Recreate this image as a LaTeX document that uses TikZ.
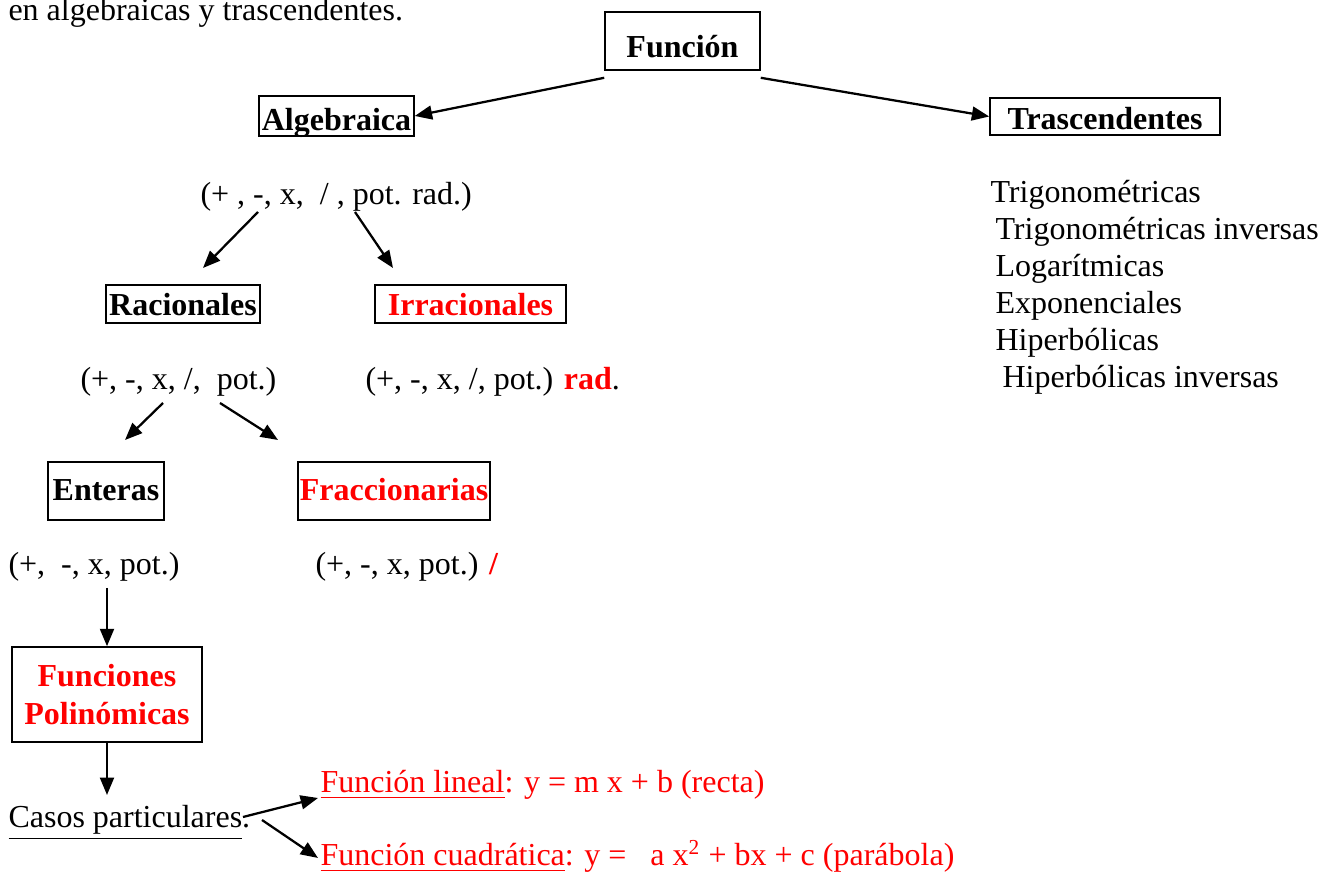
\documentclass[tikz,border=0pt]{standalone}
\usepackage{fontspec}
\setmainfont{Liberation Serif}
\usetikzlibrary{arrows.meta}
\begin{document}
\fontsize{12}{14}\selectfont
\begin{tikzpicture}[x=0.375pt,y=-0.375pt,
  box/.style={draw,line width=0.6pt,font=\bfseries,inner sep=0pt},
  txt/.style={anchor=base west,inner sep=0pt},
  arr/.style={line width=0.85pt,-{Triangle[length=6.5pt,width=5.2pt]}}]
\useasboundingbox (0,0) rectangle (1327,876);
\node[txt] (intro) at (8,21) {en algebraicas y trascendentes.};
\node[box,minimum width=58.1pt,text height=17.25pt,text depth=4.5pt] (fun) at (682.5,41) {Función};
\node[box,minimum width=58.1pt,text height=13.1pt,text depth=1.9pt] (alg) at (336.5,116) {Algebraica};
\node[box,minimum width=86.25pt,text height=12pt,text depth=1.9pt] (tra) at (1105,116.5) {Trascendentes};
\draw[arr] (fun.south west) ++(0,7) -- (alg.east);
\draw[arr] (fun.south east) ++(0,7) -- (tra.west);
\node[txt] (algops) at (200,205) {(+ , -, x,~~/ , pot. rad.)};
\coordinate (a1) at (258,212);
\coordinate (a2) at (203,268);
\coordinate (a3) at (355,212);
\coordinate (a4) at (393,268);
\draw[arr] (a1) -- (a2);
\draw[arr] (a3) -- (a4);
\node[box,minimum width=57.75pt,text height=11.6pt,text depth=2.6pt] (rac) at (183,304) {Racionales};
\node[box,minimum width=71.6pt,text height=11.6pt,text depth=2.6pt,text=red] (irr) at (470.5,304) {Irracionales};
\node[txt] (racops) at (80,390) {(+, -, x, /,~~pot.)};
\node[txt] (irrops) at (365,390) {(+, -, x, /, pot.) \textcolor{red}{\bfseries rad}.};
\coordinate (r1) at (163,403);
\coordinate (r2) at (125,440);
\coordinate (r3) at (220,403);
\coordinate (r4) at (278,440);
\draw[arr] (r1) -- (r2);
\draw[arr] (r3) -- (r4);
\node[box,minimum width=43.5pt,text height=14.6pt,text depth=7.1pt] (ent) at (106,491) {Enteras};
\node[box,minimum width=72pt,text height=14.6pt,text depth=7.1pt,text=red] (fra) at (394,491) {Fraccionarias};
\node[txt] (entops) at (8,575) {(+,~~-, x, pot.)};
\node[txt] (fraops) at (315,575) {(+, -, x, pot.) \textcolor{red}{\bfseries /}};
\coordinate (e1) at (107,588);
\node[box,minimum width=71.25pt,minimum height=35.6pt,text=red,align=center] (poli) at (107,694.5) {Funciones\\Polinómicas};
\draw[arr] (e1) -- (poli.north);
\coordinate (p1) at (107,795);
\draw[arr] (poli.south) -- (p1);
\node[txt] (casos) at (8,828) {\underline{Casos particulares}.};
\node[txt,text=red] (lin) at (320,793) {\underline{Función lineal}: y = m x + b (recta)};
\node[txt,text=red] (cua) at (320,866) {\underline{Función cuadrática}: y =~~~a x\textsuperscript{2} + bx + c (parábola)};
\coordinate (c1) at (243,817);
\coordinate (c2) at (318,798);
\coordinate (c3) at (262,820);
\coordinate (c4) at (318,858);
\draw[arr] (c1) -- (c2);
\draw[arr] (c3) -- (c4);
\node[txt] (t1) at (990,203) {Trigonométricas};
\node[txt] (t2) at (995,240) {Trigonométricas inversas};
\node[txt] (t3) at (995,277) {Logarítmicas};
\node[txt] (t4) at (995,314) {Exponenciales};
\node[txt] (t5) at (995,351) {Hiperbólicas};
\node[txt] (t6) at (1002,388) {Hiperbólicas inversas};
\end{tikzpicture}
\end{document}
